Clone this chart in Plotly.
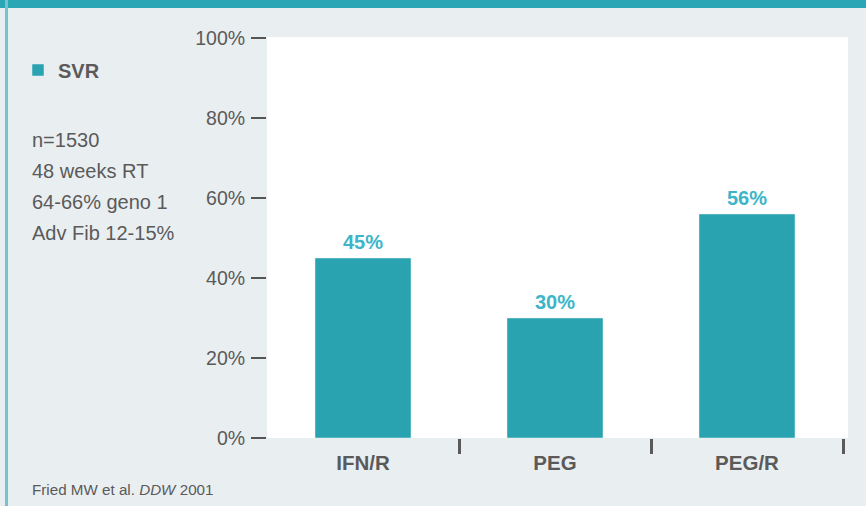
import plotly.graph_objects as go

categories = ["IFN/R", "PEG", "PEG/R"]
svr_values = [45, 30, 56]
series_name = "SVR"
y_ticks = [0, 20, 40, 60, 80, 100]
y_tick_labels = ["0%", "20%", "40%", "60%", "80%", "100%"]
notes = ["n=1530", "48 weeks RT", "64-66% geno 1", "Adv Fib 12-15%"]
source = "Fried MW et al. <i>DDW</i> 2001"

BAR = "#2aa3b0"
LABEL = "#3db5c8"
TXT = "#5a5a5a"
BG = "#e9eef1"
FONT = "Liberation Sans, Arial, sans-serif"

W, H = 866, 506
L, R, T, B = 267, 18, 37, 68
pw, ph = W - L - R, H - T - B

def px_x(px):
    return (px - L) / pw

def px_y(py):
    return (H - B - py) / ph

fig = go.Figure()
fig.add_trace(go.Bar(
    x=categories, y=svr_values, name=series_name, marker_color=BAR,
    width=0.5, showlegend=True, hoverinfo="x+y",
))
# invisible trace hosting the category-separator tick axis
fig.add_trace(go.Scatter(x=[i + 0.5 for i in range(len(categories))],
                         y=[0] * len(categories), xaxis="x2", mode="markers",
                         marker=dict(opacity=0), showlegend=False, hoverinfo="skip"))

for c, v in zip(categories, svr_values):
    fig.add_annotation(x=c, y=v, text=f"<b>{v}%</b>", showarrow=False,
                       yanchor="bottom", yshift=3,
                       font=dict(family=FONT, size=20, color=LABEL))

xr = [-0.5, 2.526]
fig.update_layout(
    width=W, height=H,
    margin=dict(l=L, r=R, t=T, b=B, autoexpand=False),
    paper_bgcolor=BG, plot_bgcolor="white",
    font=dict(family=FONT, color=TXT),
    xaxis=dict(type="category", range=xr, showgrid=False, zeroline=False,
               showline=False, ticks="", ticklabelstandoff=10,
               tickfont=dict(family=FONT, size=20.5, color=TXT, weight="bold")),
    xaxis2=dict(overlaying="x", anchor="y", range=xr, showgrid=False,
                zeroline=False, showline=False, showticklabels=False,
                tickvals=[i + 0.5 for i in range(len(categories))],
                ticks="outside", ticklen=15, tickwidth=3, tickcolor="#5a5a5a",
                side="bottom"),
    yaxis=dict(range=[0, 100.25], tickmode="array", tickvals=y_ticks,
               ticktext=y_tick_labels,
               showgrid=False, zeroline=False, showline=False,
               ticks="outside", ticklen=15, tickwidth=2, tickcolor="#555555",
               ticklabelstandoff=2,
               tickfont=dict(family=FONT, size=19.5, color=TXT)),
    legend=dict(x=px_x(18), y=px_y(70), xanchor="left", yanchor="middle",
                bgcolor="rgba(0,0,0,0)",
                font=dict(family=FONT, size=20, color=TXT, weight="bold")),
    showlegend=True,
)

for i, n in enumerate(notes):
    fig.add_annotation(xref="paper", yref="paper", x=px_x(30), y=px_y(140 + 31 * i),
                       text=n, showarrow=False, xanchor="left", yanchor="middle",
                       font=dict(family=FONT, size=20, color=TXT))

fig.add_annotation(xref="paper", yref="paper", x=px_x(30), y=px_y(490),
                   text=source, showarrow=False, xanchor="left", yanchor="middle",
                   font=dict(family=FONT, size=15.2, color=TXT))

# frame decorations: top teal strip and thin left border
fig.add_shape(type="rect", xref="paper", yref="paper", x0=px_x(0), x1=px_x(W),
              y0=px_y(0), y1=px_y(8), fillcolor="#2aa6b4", line_width=0, layer="above")
fig.add_shape(type="rect", xref="paper", yref="paper", x0=px_x(5), x1=px_x(8),
              y0=px_y(0), y1=px_y(H), fillcolor="#74c4d0", line_width=0, layer="above")

fig.write_html("out.html", config={"displayModeBar": False},
               post_script="document.body.style.margin='0';")
